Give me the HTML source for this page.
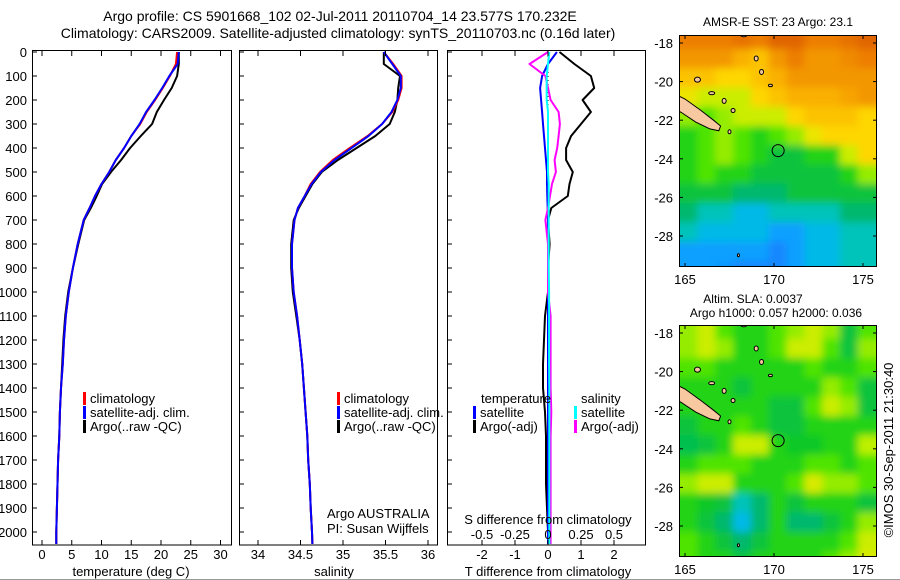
<!DOCTYPE html>
<html><head><meta charset="utf-8">
<style>
html,body{margin:0;padding:0;background:#fff;}
svg{display:block;font-family:"Liberation Sans",Arial,sans-serif;}
text{fill:#000;}
</style></head>
<body>
<svg id="fig" width="900" height="580" viewBox="0 0 900 580" xmlns="http://www.w3.org/2000/svg">
<defs><filter id="smooth" x="-10%" y="-10%" width="120%" height="120%"><feGaussianBlur stdDeviation="4"/></filter></defs>
<text x="340" y="21" font-size="14" text-anchor="middle">Argo profile: CS 5901668_102 02-Jul-2011 20110704_14 23.577S 170.232E</text>
<text x="338" y="38" font-size="14" text-anchor="middle">Climatology: CARS2009. Satellite-adjusted climatology: synTS_20110703.nc (0.16d later)</text>
<g id="panels"></g>
<line x1="0" y1="579.5" x2="900" y2="579.5" stroke="#999"/>
</svg>
<script>
// ---- data ----
const depths = [0,50,100,150,200,250,300,350,400,450,500,550,600,650,700,800,900,1000,1100,1200,1300,1400,1500,1600,1700,1800,1900,2000,2050];
const tempClim = [22.7,22.5,21.5,20.3,19.0,17.6,16.5,15.0,13.8,12.4,11.3,10.0,8.9,8.0,7.0,6.0,5.2,4.5,4.0,3.7,3.5,3.2,3.0,2.9,2.7,2.6,2.5,2.4,2.4];
const tempSat = [23.0,22.8,21.4,20.2,18.9,17.5,16.4,15.0,13.8,12.4,11.3,10.0,8.9,8.0,7.0,6.0,5.2,4.5,4.0,3.7,3.5,3.2,3.0,2.9,2.7,2.6,2.5,2.4,2.4];
const tempArgo = [23.0,23.0,22.7,21.8,20.5,19.3,18.5,16.6,14.8,13.3,11.6,10.1,9.2,8.2,7.1,6.1,5.2,4.4,3.9,3.6,3.4,3.2,3.0,2.9,2.7,2.6,2.5,2.4,2.4];
const salClim = [35.48,35.59,35.69,35.69,35.65,35.58,35.46,35.29,35.08,34.88,34.73,34.62,34.55,34.47,34.43,34.40,34.40,34.42,34.46,34.49,34.52,34.54,34.56,34.58,34.59,34.61,34.62,34.635,34.64];
const salSat = [35.48,35.58,35.68,35.68,35.64,35.57,35.46,35.30,35.10,34.90,34.74,34.63,34.55,34.47,34.43,34.40,34.40,34.42,34.46,34.49,34.52,34.54,34.56,34.58,34.59,34.61,34.62,34.635,34.64];
const salArgo = [35.48,35.48,35.67,35.65,35.64,35.61,35.55,35.38,35.16,34.94,34.75,34.64,34.56,34.48,34.42,34.39,34.39,34.41,34.45,34.49,34.52,34.54,34.56,34.58,34.59,34.61,34.62,34.635,34.64];
const dTSat = [0.27,0.0,-0.18,-0.24,-0.21,-0.18,-0.15,-0.12,-0.09,-0.06,-0.03,-0.03,-0.02,-0.01,0,0,0,0,0,0,0,0,0,0,0,0,0,0,0];
const dTArgo = [0.35,0.8,1.3,1.4,1.05,1.3,1.0,0.7,0.55,0.55,0.75,0.65,0.6,0.1,0.0,0.05,0.0,0.0,-0.09,-0.12,-0.15,-0.15,-0.09,-0.06,-0.06,-0.06,-0.03,0.0,0.0];
const dSSat = [0.01,0.0,-0.01,-0.01,-0.01,0.0,0.0,0.0,0.0,0.0,0.0,0.005,0.005,0.005,0.005,0.005,0.005,0.008,0.008,0.008,0.008,0.01,0.01,0.01,0.01,0.01,0.01,0.01,0.01];
const dSArgo = [0.0,-0.14,-0.02,0.0,0.02,0.08,0.09,0.08,0.07,0.05,0.06,0.03,0.015,0.0,-0.02,0.0,0.0,0.0,0.02,0.02,0.02,0.02,0.025,0.02,0.02,0.02,0.02,0.02,0.02];
const tempTicks = [0,5,10,15,20,25,30];
const salTicks = [34,34.5,35,35.5,36];
const salTickLabels = ["34","34.5","35","35.5","36"];
const dTTicks = [-2,-1,0,1,2];
const dSTicks = [-0.5,-0.25,0,0.25,0.5];
const dSTickLabels = ["-0.5","-0.25","0","0.25","0.5"];
const depthTicks = [0,100,200,300,400,500,600,700,800,900,1000,1100,1200,1300,1400,1500,1600,1700,1800,1900,2000];
const latTicks = [-16,-18,-20,-22,-24,-26,-28];
const lonTicks = [165,170,175];
// map grids: rows lat -17.5..-29.5 (1 deg), cols lon 164.7..175.7 (1 deg), normalised colour value
const sstGrid = [
[0.86,0.86,0.86,0.88,0.86,0.9,0.9,0.86,0.86,0.88,0.9],
[0.82,0.82,0.82,0.78,0.74,0.82,0.86,0.82,0.82,0.84,0.86],
[0.74,0.74,0.7,0.7,0.74,0.78,0.82,0.82,0.82,0.82,0.82],
[0.65,0.6,0.6,0.6,0.7,0.74,0.78,0.78,0.78,0.8,0.82],
[0.55,0.5,0.55,0.6,0.6,0.6,0.7,0.74,0.74,0.74,0.7],
[0.45,0.5,0.55,0.5,0.45,0.5,0.55,0.65,0.7,0.7,0.7],
[0.45,0.5,0.55,0.5,0.45,0.4,0.4,0.45,0.45,0.6,0.7],
[0.45,0.5,0.45,0.45,0.4,0.4,0.4,0.4,0.4,0.45,0.55],
[0.4,0.4,0.4,0.35,0.35,0.35,0.4,0.4,0.4,0.4,0.4],
[0.35,0.3,0.3,0.25,0.25,0.3,0.3,0.3,0.3,0.35,0.35],
[0.3,0.25,0.25,0.25,0.25,0.2,0.2,0.25,0.25,0.3,0.3],
[0.2,0.2,0.2,0.2,0.2,0.15,0.2,0.25,0.25,0.3,0.3],
[0.2,0.2,0.18,0.15,0.15,0.15,0.2,0.25,0.25,0.3,0.3]];
const slaGrid = [
[0.55,0.6,0.5,0.45,0.45,0.5,0.55,0.6,0.55,0.4,0.5],
[0.55,0.6,0.55,0.45,0.45,0.5,0.6,0.6,0.5,0.4,0.55],
[0.5,0.5,0.45,0.45,0.45,0.45,0.45,0.5,0.45,0.45,0.5],
[0.45,0.45,0.45,0.4,0.45,0.45,0.45,0.45,0.55,0.5,0.4],
[0.45,0.45,0.45,0.45,0.45,0.4,0.4,0.5,0.6,0.55,0.4],
[0.4,0.45,0.45,0.5,0.45,0.4,0.4,0.45,0.45,0.45,0.45],
[0.38,0.4,0.45,0.6,0.6,0.45,0.42,0.42,0.45,0.45,0.58],
[0.45,0.5,0.5,0.5,0.45,0.45,0.45,0.5,0.5,0.45,0.5],
[0.55,0.6,0.6,0.45,0.45,0.45,0.5,0.62,0.55,0.55,0.5],
[0.45,0.42,0.4,0.3,0.35,0.45,0.4,0.45,0.45,0.45,0.4],
[0.45,0.4,0.35,0.25,0.35,0.45,0.35,0.35,0.4,0.45,0.55],
[0.5,0.45,0.4,0.35,0.4,0.45,0.45,0.45,0.45,0.5,0.6],
[0.5,0.45,0.45,0.4,0.45,0.45,0.45,0.45,0.5,0.55,0.62]];
const argoLon = 170.232, argoLat = -23.577;

// ---- helpers ----
const NS = "http://www.w3.org/2000/svg";
const root = document.getElementById('panels');
function mk(tag, attrs, parent, txt){
  const e = document.createElementNS(NS, tag);
  for (const k in attrs) e.setAttribute(k, attrs[k]);
  if (txt !== undefined) e.textContent = txt;
  (parent||root).appendChild(e);
  return e;
}
const yTop = 52, yPx = 0.24;
const yD = d => yTop + d*yPx;
const PB = 545;

function profileFrame(x0, x1, name){
  const f = mk('rect', {x:x0+0.5, y:yTop-1.5, width:x1-x0, height:PB-yTop+1.5, fill:'none', stroke:'#000'});
  
  
  depthTicks.forEach(d=>{
    const t = mk('line',{x1:x0, x2:x0+5, y1:yD(d), y2:yD(d), stroke:'#000'});
    
    
  });
}
function drawLine(xs, xf, color, name, w){
  const pts = xs.map((v,i)=>xf(v).toFixed(1)+','+yD(depths[i]).toFixed(1)).join(' ');
  const p = mk('polyline',{points:pts, fill:'none', stroke:color, 'stroke-width':w||2, 'stroke-linejoin':'round'});
  
  
}
function xTicks(vals, labels, xf, ly, name){
  vals.forEach((v,i)=>{
    const x = xf(v);
    const a = mk('line',{x1:x,x2:x,y1:PB,y2:PB-5,stroke:'#000'});
    
    
    const b = mk('line',{x1:x,x2:x,y1:yTop-1,y2:yTop+4,stroke:'#000'});
    
    
    const t = mk('text',{x:x,y:ly,'font-size':13,'text-anchor':'middle'}, root, labels[i]);
    
    
  });
}
function label(x,y,txt,name,anchor,size){
  const t = mk('text',{x:x,y:y,'font-size':size||13,'text-anchor':anchor||'start'}, root, txt);
  
  
  return t;
}
function legendEntry(x,y,color,txt,name){
  const r = mk('rect',{x:x,y:y-11,width:3,height:13,fill:color});
  
  
  label(x+7,y,txt,name);
}

// depth axis labels
depthTicks.forEach(d=>{
  const t = mk('text',{x:27,y:yD(d)+5,'font-size':13,'text-anchor':'end'}, root, String(d));
  
  
});

// Panel 1 temperature
const xT = v => 42 + v*5.95;
profileFrame(32, 231, 'temperature-panel');
drawLine(tempArgo, xT, '#000', 'argo-temperature-line');
drawLine(tempClim, xT, '#f00', 'climatology-temperature-line');
drawLine(tempSat, xT, '#00f', 'satellite-temperature-line');
xTicks(tempTicks, tempTicks.map(String), xT, 559, 'temperature-axis');
label(131,576,'temperature (deg C)','temperature-axis-title','middle');
legendEntry(83,403,'#f00','climatology','legend-climatology');
legendEntry(83,417,'#00f','satellite-adj. clim.','legend-satellite-adj');
legendEntry(83,431,'#000','Argo(..raw -QC)','legend-argo');

// Panel 2 salinity
const xS = v => 258 + (v-34)*85;
profileFrame(239, 437, 'salinity-panel');
drawLine(salArgo, xS, '#000', 'argo-salinity-line');
drawLine(salClim, xS, '#f00', 'climatology-salinity-line');
drawLine(salSat, xS, '#00f', 'satellite-salinity-line');
xTicks(salTicks, salTickLabels, xS, 559, 'salinity-axis');
label(334,576,'salinity','salinity-axis-title','middle');
legendEntry(337,403,'#f00','climatology','legend-climatology-2');
legendEntry(337,417,'#00f','satellite-adj. clim.','legend-satellite-adj-2');
legendEntry(337,431,'#000','Argo(..raw -QC)','legend-argo-2');
label(327,518,'Argo AUSTRALIA','argo-australia-label');
label(327,533,'PI: Susan Wijffels','pi-label');

// Panel 3 differences
const xDT = v => 548 + v*33;
const xDS = v => 548 + v*132;
profileFrame(447, 645, 'difference-panel');
const z = mk('line',{x1:548,x2:548,y1:yTop,y2:PB,stroke:'#000','stroke-dasharray':'1,3'});


drawLine(dTArgo, xDT, '#000', 'argo-temperature-diff-line');
drawLine(dTSat, xDT, '#00f', 'satellite-temperature-diff-line');
drawLine(dSArgo, xDS, '#f0f', 'argo-salinity-diff-line');
drawLine(dSSat, xDS, '#0ff', 'satellite-salinity-diff-line');
xTicks(dTTicks, dTTicks.map(String), xDT, 559, 'temperature-diff-axis');
dSTicks.forEach((v,i)=>{
  const t = mk('text',{x:xDS(v),y:539,'font-size':13,'text-anchor':'middle'}, root, dSTickLabels[i]);
  
  
});
label(548,524,'S difference from climatology','salinity-diff-axis-title','middle');
label(548,576,'T difference from climatology','temperature-diff-axis-title','middle');
label(481,403,'temperature','legend-temperature-header');
label(581,403,'salinity','legend-salinity-header');
legendEntry(473,417,'#00f','satellite','legend-t-satellite');
legendEntry(473,431,'#000','Argo(-adj)','legend-t-argo');
legendEntry(574,417,'#0ff','satellite','legend-s-satellite');
legendEntry(574,431,'#f0f','Argo(-adj)','legend-s-argo');

// ---- maps ----
const cstops = [[0.1,[30,110,255]],[0.2,[10,160,255]],[0.28,[0,200,216]],[0.35,[0,184,110]],[0.42,[10,200,40]],[0.5,[80,228,0]],[0.58,[190,240,0]],[0.68,[255,224,0]],[0.78,[250,176,0]],[0.87,[235,120,0]],[0.95,[205,70,0]]];
function cmap(v){
  if (v<=cstops[0][0]) return 'rgb('+cstops[0][1]+')';
  for (let i=1;i<cstops.length;i++){
    if (v<=cstops[i][0]){
      const a=cstops[i-1], b=cstops[i], t=(v-a[0])/(b[0]-a[0]);
      return 'rgb('+a[1].map((c,j)=>Math.round(c+(b[1][j]-c)*t)).join(',')+')';
    }
  }
  return 'rgb('+cstops[cstops.length-1][1]+')';
}
function drawMap(grid, top, bottom, name){
  const x0=679, x1=877;
  const lonX = lon => 774 + (lon-170)*17.8;
  const lat18 = top+8, lat28 = bottom-31;
  const latY = lat => lat18 + (-18-lat)*(lat28-lat18)/10;
  const g = mk('g',{});
  
  
  const clip = mk('clipPath',{id:name+'-clip'},g);
  mk('rect',{x:x0,y:top,width:x1-x0,height:bottom-top},clip);
  const cg = mk('g',{'clip-path':'url(#'+name+'-clip)'},g);
  const bg = mk('g',{filter:'url(#smooth)'},cg);
  const nR = grid.length, nC = grid[0].length;
  grid.forEach((row,r)=>{
    row.forEach((v,c)=>{
      let xa = lonX(164.7+c), xb = lonX(165.7+c);
      let ya = latY(-17.3-r), yb = latY(-18.3-r);
      if (c===0) xa -= 14;
      if (c===nC-1) xb += 14;
      if (r===0) ya -= 14;
      if (r===nR-1) yb += 14;
      const cell = mk('rect',{x:xa.toFixed(1),y:ya.toFixed(1),width:(xb-xa+0.6).toFixed(1),height:(yb-ya+0.6).toFixed(1),fill:cmap(v)},bg);
      
      
    });
  });
  // New Caledonia
  const nc = [[164,-20.45],[165.0,-20.9],[165.9,-21.5],[166.6,-22.0],[167.0,-22.3],[166.9,-22.55],[166.4,-22.45],[165.6,-22.1],[164.8,-21.6],[164,-21.2]];
  const land = mk('polygon',{points:nc.map(p=>lonX(p[0]).toFixed(1)+','+latY(p[1]).toFixed(1)).join(' '),fill:'#f8c8a0',stroke:'#000','stroke-width':1},cg);
  
  
  const isl = [[168.3,-17.6,3,1.5],[169.0,-18.8,2,2.5],[169.3,-19.5,2,2.5],[165.7,-19.9,3,2.5],[166.5,-20.6,3,1.5],[167.2,-21.0,2,2.5],[167.7,-21.5,2,2],[167.5,-22.6,1.5,2],[169.8,-20.2,2,1.2],[168.0,-29.0,1,1.5]];
  isl.forEach(s=>{
    const e = mk('ellipse',{cx:lonX(s[0]),cy:latY(s[1]),rx:s[2],ry:s[3],fill:'#f8c8a0',stroke:'#000'},cg);
    
    
  });
  const c = mk('circle',{cx:lonX(argoLon),cy:latY(argoLat),r:6,fill:'none',stroke:'#000'},g);
  
  
  const fr = mk('rect',{x:x0+0.5,y:top+0.5,width:x1-x0-1,height:bottom-top-1,fill:'none',stroke:'#000'},g);
  
  
  latTicks.forEach(l=>{
    const y = latY(l);
    if (y<top) return;
    mk('line',{x1:x0,x2:x0+4,y1:y,y2:y,stroke:'#000'},g);
    mk('line',{x1:x1-4,x2:x1,y1:y,y2:y,stroke:'#000'},g);
    const t = mk('text',{x:673,y:y+5,'font-size':13,'text-anchor':'end'},g,String(l));
    
    
  });
  lonTicks.forEach(l=>{
    const x = lonX(l);
    mk('line',{x1:x,x2:x,y1:bottom,y2:bottom-4,stroke:'#000'},g);
    mk('line',{x1:x,x2:x,y1:top,y2:top+4,stroke:'#000'},g);
    const t = mk('text',{x:x,y:bottom+17,'font-size':13,'text-anchor':'middle'},g,String(l));
    
    
  });
}
drawMap(sstGrid, 35, 267, 'sst-map');
drawMap(slaGrid, 325, 557, 'sla-map');
label(778,26,'AMSR-E SST: 23 Argo: 23.1','sst-map-title','middle',12);
label(753,303,'Altim. SLA: 0.0037','sla-map-title','middle',12);
label(776,317,'Argo h1000: 0.057 h2000: 0.036','sla-map-subtitle','middle',12);
const cr = label(0,0,'©IMOS 30-Sep-2011 21:30:40','imos-credit','middle',13);
cr.setAttribute('transform','translate(893,450) rotate(-90)');
</script>
</body></html>
